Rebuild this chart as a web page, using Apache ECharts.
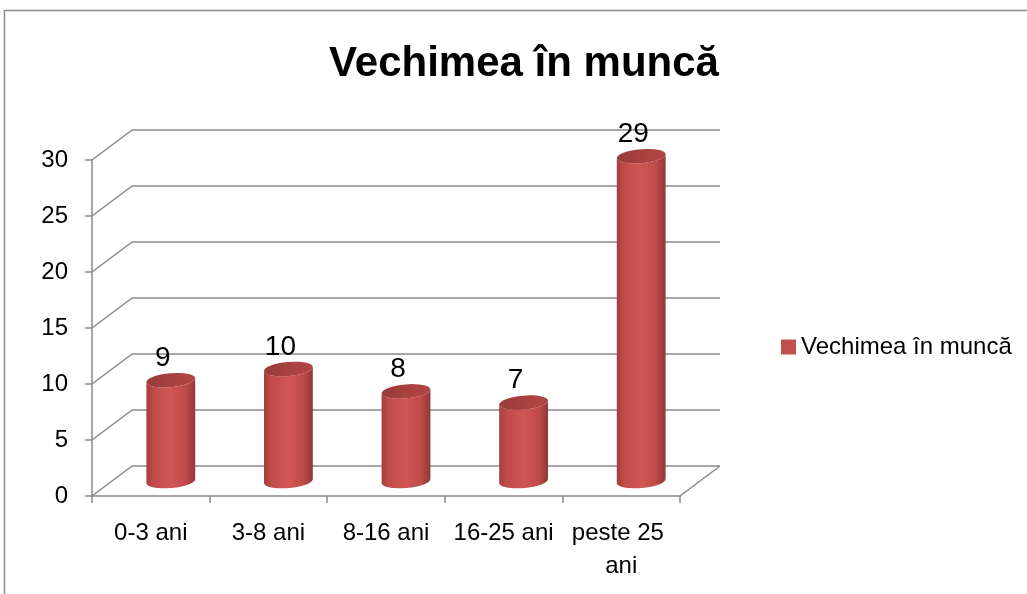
<!DOCTYPE html>
<html>
<head>
<meta charset="utf-8">
<script src="https://cdn.jsdelivr.net/npm/echarts@6/dist/echarts.min.js"></script>
<style>
html, body { margin: 0; padding: 0; background: #fff; }
#main { width: 1027px; height: 594px; }
</style>
</head>
<body>
<div id="main"></div>
<script>
// date
const chartTitle = 'Vechimea în muncă'
const categories = ['0-3 ani', '3-8 ani', '8-16 ani', '16-25 ani', 'peste 25 ani']
const values = [9, 10, 8, 7, 29]
const yTicks = [0, 5, 10, 15, 20, 25, 30]

// adancimea "3D" (pixeli)
const DX = 40
const DY = -30
const FONT = '"Liberation Sans", Arial, sans-serif'
const LINE = '#898989'

const chartBox = echarts.init(document.getElementById('main'))

function edges(api) {
  const band = api.size([1, 0])[0]
  const first = api.coord([0, 0])[0]
  const last = api.coord([categories.length - 1, 0])[0]
  return { left: first - band / 2, right: last + band / 2 }
}

// peretele din spate + diagonalele
function renderFrame(params, api) {
  const v = api.value(1)
  const y = api.coord([0, v])[1]
  const e = edges(api)
  const style = { stroke: LINE, lineWidth: 1.5 }
  const children = [
    { type: 'line', shape: { x1: e.left, y1: y, x2: e.left + DX, y2: y + DY }, style },
    { type: 'line', shape: { x1: e.left + DX, y1: y + DY, x2: e.right + DX, y2: y + DY }, style }
  ]
  if (v === 0) {
    children.push({ type: 'line', shape: { x1: e.right, y1: y, x2: e.right + DX, y2: y + DY }, style })
  }
  return { type: 'group', children }
}

// cilindrii
function renderCylinder(params, api) {
  const i = api.value(0)
  const v = api.value(1)
  const base = api.coord([i, 0])
  const top = api.coord([i, v])
  const cx = base[0] + DX / 2
  const yb = base[1] + DY / 2
  const yt = top[1] + DY / 2
  const rx = 24.5
  const ry = 7
  const rot = -5
  const a = rot * Math.PI / 180
  const dx = rx * Math.cos(a)
  const dy = rx * Math.sin(a)
  const L = (y) => (cx - dx) + ' ' + (y - dy)
  const R = (y) => (cx + dx) + ' ' + (y + dy)
  const body = 'M ' + L(yt) + ' L ' + L(yb) +
    ' A ' + rx + ' ' + ry + ' ' + rot + ' 0 0 ' + R(yb) +
    ' L ' + R(yt) +
    ' A ' + rx + ' ' + ry + ' ' + rot + ' 0 1 ' + L(yt) + ' Z'
  const cap = 'M ' + L(yt) +
    ' A ' + rx + ' ' + ry + ' ' + rot + ' 0 0 ' + R(yt) +
    ' A ' + rx + ' ' + ry + ' ' + rot + ' 0 0 ' + L(yt) + ' Z'
  return {
    type: 'group',
    children: [
      {
        type: 'path',
        shape: { pathData: body },
        style: {
          fill: {
            type: 'linear', x: 0, y: 0, x2: 1, y2: 0,
            colorStops: [
              { offset: 0, color: '#a23f3d' },
              { offset: 0.15, color: '#c04c4a' },
              { offset: 0.5, color: '#d05653' },
              { offset: 0.8, color: '#bf4b49' },
              { offset: 1, color: '#903735' }
            ]
          }
        }
      },
      {
        type: 'path',
        shape: { pathData: cap },
        style: {
          fill: {
            type: 'linear', x: 0, y: 0, x2: 1, y2: 0,
            colorStops: [
              { offset: 0, color: '#993c3a' },
              { offset: 1, color: '#b34644' }
            ]
          }
        }
      },
      {
        type: 'text',
        style: {
          text: String(v),
          x: cx - 8,
          y: yt - 22,
          align: 'center',
          verticalAlign: 'middle',
          font: '28px ' + FONT,
          fill: '#000'
        }
      }
    ]
  }
}

const option = {
  animation: false,
  title: {
    text: chartTitle,
    left: 524,
    top: 43,
    padding: 0,
    textAlign: 'center',
    textStyle: { fontSize: 42, fontWeight: 'bold', color: '#000', fontFamily: FONT }
  },
  legend: {
    data: [chartTitle],
    left: 781,
    top: 335,
    padding: 0,
    icon: 'rect',
    itemWidth: 15,
    itemHeight: 15,
    textStyle: { fontSize: 24, color: '#000', fontFamily: FONT }
  },
  graphic: [
    {
      type: 'rect',
      silent: true,
      z: -10,
      shape: { x: 4.5, y: 10.5, width: 1200, height: 800 },
      style: { fill: 'none', stroke: '#8a8a8a', lineWidth: 1.5 }
    }
  ],
  grid: {
    left: 92,
    top: 160,
    width: 588,
    height: 336,
    outerBoundsMode: 'none'
  },
  xAxis: {
    type: 'category',
    data: categories,
    axisLine: { show: true, lineStyle: { color: LINE, width: 1.5 } },
    axisTick: { show: true, length: 7, lineStyle: { color: LINE, width: 1.5 } },
    axisLabel: {
      interval: 0,
      fontSize: 24,
      color: '#000',
      fontFamily: FONT,
      margin: 21,
      lineHeight: 33,
      width: 112,
      overflow: 'break'
    }
  },
  yAxis: {
    type: 'value',
    min: 0,
    max: 30,
    interval: 5,
    axisLine: { show: true, lineStyle: { color: LINE, width: 1.5 } },
    axisTick: { show: true, length: 7, lineStyle: { color: LINE, width: 1.5 } },
    splitLine: { show: false },
    axisLabel: { fontSize: 24, color: '#000', fontFamily: FONT, margin: 24 }
  },
  series: [
    {
      name: 'frame',
      type: 'custom',
      silent: true,
      clip: false,
      z: 1,
      renderItem: renderFrame,
      data: yTicks.map((v) => [0, v])
    },
    {
      name: chartTitle,
      type: 'custom',
      clip: false,
      z: 5,
      itemStyle: { color: '#C0504D' },
      renderItem: renderCylinder,
      encode: { x: 0, y: 1 },
      data: values.map((v, i) => [i, v])
    }
  ]
}

chartBox.setOption(option)
window.addEventListener('resize', function () {
  chartBox.resize()
})
</script>
</body>
</html>
